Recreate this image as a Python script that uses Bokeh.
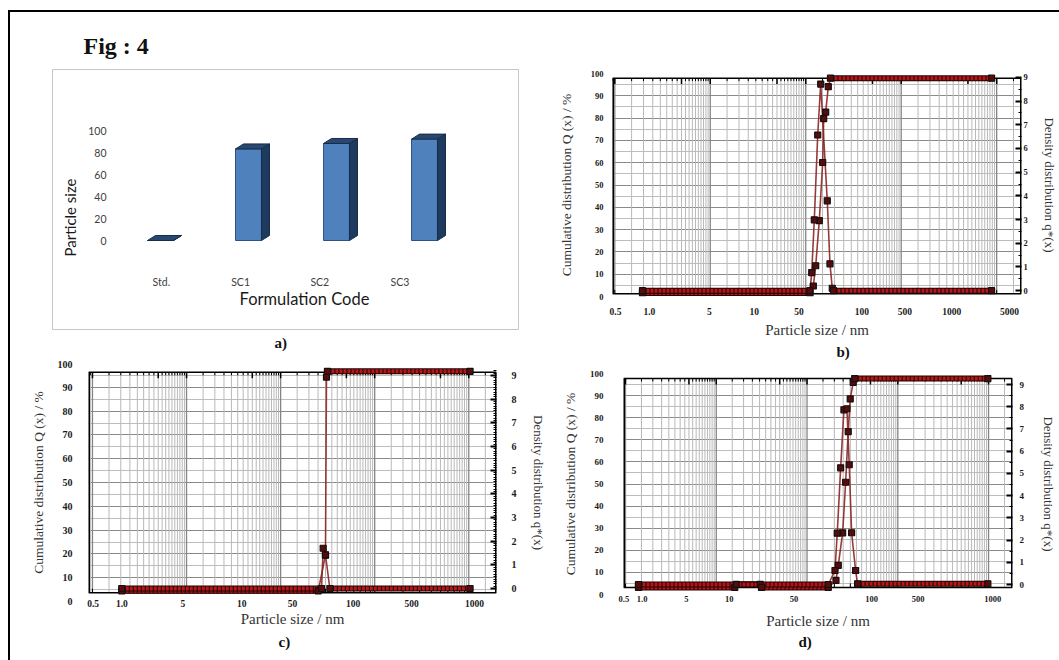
import numpy as np
from bokeh.plotting import figure
from bokeh.models import (Range1d, LinearAxis, FixedTicker, Label, Grid, Div, Spacer, Title)
from bokeh.layouts import column, row
from bokeh.embed import file_html
from bokeh.resources import INLINE

SERIF = "Liberation Serif"
SANS = "Lato"

# ---------------- data ----------------
# a) bar chart
codes = ["Std.", "SC1", "SC2", "SC3"]
particle_size = [0, 84, 89, 93]
size_ticks = [0, 20, 40, 60, 80, 100]

# b), c), d) distribution charts (x in nm on the log grid of each chart)
size_tick_text = ["0.5", "1.0", "5", "10", "50", "100", "500", "1000", "5000"]
cum_ticks = [0, 10, 20, 30, 40, 50, 60, 70, 80, 90, 100]
den_ticks = [0, 1, 2, 3, 4, 5, 6, 7, 8, 9]

b_size_tick_pos = [1.017, 2.305, 9.763, 28.83, 85.11, 387.6, 1090, 3379, 13640]
b_cum_x = [1.95, 110.9, 120.1, 127.2, 138.7, 150.5, 154.2, 161.8, 172.3, 181.6, 8846]
b_cum_y = [1.6, 1.6, 4.7, 13.8, 34.0, 60.1, 79.8, 82.7, 94.1, 97.9, 97.9]
b_den_x = [1.95, 110.9, 115.5, 123.0, 133.5, 143.5, 168.1, 179.4, 189.7, 195.2, 8846]
b_den_y = [0, 0, 0.76, 2.99, 6.57, 8.72, 3.79, 1.13, 0.10, 0, 0]

c_size_tick_pos = [1.017, 2.054, 9.141, 38.55, 133.7, 591.6, 2472, 11482]
c_cum_x = [2.05, 251, 299.8, 307.2, 314.7, 10320]
c_cum_y = [4.5, 4.5, 19.5, 94.3, 96.7, 96.7]
c_den_x = [2.05, 272.1, 283.5, 299.8, 333.7, 10320]
c_den_y = [0, 0, 1.70, 1.42, 0, 0]

d_size_tick_pos = [0.96, 1.526, 4.677, 13.90, 71.94, 514.0, 1671, 11143]
d_cum_x = [1.39, 16.0, 16.6, 30.4, 31.5, 171.4, 208.4, 220.8, 246.9, 266.3, 284.3, 299.1, 322.8, 335.0, 9824]
d_cum_y = [3.2, 3.2, 4.6, 4.6, 3.2, 3.2, 6.4, 13.2, 27.9, 50.8, 73.7, 88.5, 96.0, 97.7, 97.7]
d_den_x = [1.39, 171.4, 203.2, 215.3, 234.6, 255.0, 275.2, 291.6, 309.9, 342.9, 360.7, 9824]
d_den_y = [0, 0, 0.63, 2.31, 5.25, 7.86, 7.91, 5.39, 2.33, 0.63, 0.03, 0.03]

LINE = "#8b2525"
CHAIN_DARK = "#260000"
CHAIN_RED = "#b3191c"

TITLE_HAS_STANDOFF = "standoff" in Title.properties()


def no_align(p):
    if "frame_align" in p.properties():
        p.frame_align = False
    return p


def make_title(text, offset, standoff, size, font, style, align="left"):
    kw = dict(text=text, align=align, offset=offset, text_font=font,
              text_font_style=style, text_font_size=size, text_color="#111111")
    if TITLE_HAS_STANDOFF:
        kw["standoff"] = standoff
    return Title(**kw)


def log_grid(lo, hi):
    decades, halves, ints = [], [], []
    for n in range(-1, 6):
        for k in np.arange(1.0, 10.0, 0.5):
            v = float(k * 10.0 ** n)
            if lo < v < hi:
                if k == 1.0:
                    decades.append(v)
                else:
                    halves.append(v)
                    if k == int(k):
                        ints.append(v)
    return decades, halves, ints


def chains(xv, yv, min_dec=0.15):
    xs, ys = [], []
    for i in range(len(xv) - 1):
        if yv[i] == yv[i + 1] and np.log10(xv[i + 1] / xv[i]) >= min_dec:
            xs.append([xv[i], xv[i + 1]])
            ys.append([yv[i], yv[i + 1]])
    return xs, ys


def dist_panel(cfg, tick_pos, cum_x, cum_y, den_x, den_y):
    x0, x1 = cfg["x_rng"]
    bot, top = cfg["box"]
    ppu = cfg["ppu"]
    p = figure(width=cfg["w"], height=cfg["h"], x_axis_type="log",
               x_range=Range1d(x0, x1), y_range=Range1d(0, 100),
               output_backend="svg", toolbar_location=None,
               min_border_left=cfg["bl"], min_border_right=cfg["br"],
               min_border_top=cfg["bt"], min_border_bottom=cfg["bb"])
    no_align(p)
    p.extra_y_ranges = {"den": Range1d(*cfg["den_rng"])}
    p.outline_line_color = None
    p.xgrid.visible = False
    p.ygrid.visible = False

    decades, halves, ints = log_grid(x0, x1)
    # vertical log grid inside the chart box
    p.segment(x0=halves, y0=bot, x1=halves, y1=top, line_color="#b9b9b9", line_width=1)
    p.segment(x0=decades, y0=bot, x1=decades, y1=top, line_color="#858585", line_width=1.3)
    # horizontal grid
    p.add_layout(Grid(dimension=1, ticker=FixedTicker(ticks=[t + 5 for t in cum_ticks[:-1]]),
                      grid_line_color="#bcbcbc", grid_line_width=1))
    p.add_layout(Grid(dimension=1, ticker=FixedTicker(ticks=cum_ticks[1:-1]),
                      grid_line_color="#8a8a8a", grid_line_width=1.2))
    # ruler ticks along top and bottom of the box
    top_major = decades + [v for v in ints if abs(v / 10 ** np.floor(np.log10(v)) - 5) < 1e-9]
    top_minor = [v for v in halves if v not in top_major]
    p.segment(x0=top_major, y0=top, x1=top_major, y1=top - 6 / ppu, line_color="black", line_width=1.5)
    p.segment(x0=top_minor, y0=top, x1=top_minor, y1=top - 3 / ppu, line_color="black", line_width=1)
    bot_t = decades + ints
    p.segment(x0=bot_t, y0=bot, x1=bot_t, y1=bot + 4 / ppu, line_color="black", line_width=1)
    # chart box
    p.segment(x0=[x0, x0], y0=[bot, top], x1=[x1, x1], y1=[bot, top], line_color="black", line_width=1.5)
    p.segment(x0=[x0, x1], y0=[bot, bot], x1=[x0, x1], y1=[top, top], line_color="black", line_width=3)

    # bottom axis
    xa = p.xaxis[0]
    xa.ticker = FixedTicker(ticks=tick_pos)
    xa.major_label_overrides = dict(zip(tick_pos, size_tick_text[:len(tick_pos)]))
    xa.major_tick_line_color = None
    xa.minor_tick_line_color = None
    xa.axis_line_color = None
    xa.major_label_text_font = SERIF
    xa.major_label_text_font_style = "bold"
    xa.major_label_text_font_size = cfg["xtick_fs"]
    xa.major_label_text_color = "#1a1a1a"
    xa.major_label_standoff = cfg["bot_so"]
    xa.axis_label = "Particle size / nm"
    xa.axis_label_text_font = SERIF
    xa.axis_label_text_font_style = "normal"
    xa.axis_label_text_font_size = "15px"
    xa.axis_label_text_color = "#333333"
    xa.axis_label_standoff = cfg["bot_lso"]

    # left axis
    ya = p.yaxis[0]
    ya.ticker = FixedTicker(ticks=cum_ticks)
    ya.major_tick_line_color = None
    ya.major_tick_out = 0
    ya.major_tick_in = 0
    ya.minor_tick_line_color = None
    ya.minor_tick_out = 0
    ya.axis_line_color = None
    ya.major_label_text_font = SERIF
    ya.major_label_text_font_style = "bold"
    ya.major_label_text_font_size = cfg["ytick_fs"]
    ya.major_label_text_color = "#1a1a1a"
    ya.major_label_standoff = cfg["left_so"]
    ya.axis_label = "Cumulative distribution Q (x) / %"
    ya.axis_label_text_font = SERIF
    ya.axis_label_text_font_style = "normal"
    ya.axis_label_text_font_size = "13.5px"
    ya.axis_label_text_color = "#333333"
    ya.axis_label_standoff = cfg["left_lso"]

    # right axis
    ra = LinearAxis(y_range_name="den",
                    ticker=FixedTicker(ticks=den_ticks, minor_ticks=cfg["den_minor"]))
    ra.axis_line_color = None
    ra.major_tick_in = 6
    ra.major_tick_out = 0
    ra.major_tick_line_width = 2
    ra.minor_tick_in = 3
    ra.minor_tick_out = 0
    ra.major_label_text_font = SERIF
    ra.major_label_text_font_style = "bold"
    ra.major_label_text_font_size = cfg["ytick_fs"]
    ra.major_label_text_color = "#1a1a1a"
    ra.major_label_standoff = cfg["right_so"]
    ra.axis_label = "Density distribution q*(x)"
    ra.axis_label_text_font = SERIF
    ra.axis_label_text_font_style = "normal"
    ra.axis_label_text_font_size = "13px"
    ra.axis_label_text_color = "#333333"
    ra.axis_label_standoff = cfg["right_lso"]
    p.add_layout(ra, "right")

    # data
    p.line(cum_x, cum_y, line_color=LINE, line_width=1.6, line_alpha=0.9)
    p.line(den_x, den_y, y_range_name="den", line_color=LINE, line_width=1.6, line_alpha=0.9)
    for xv, yv, rn in [(cum_x, cum_y, "default"), (den_x, den_y, "den")]:
        cxs, cys = chains(xv, yv)
        p.multi_line(cxs, cys, y_range_name=rn, line_color=CHAIN_DARK, line_width=6)
        p.multi_line(cxs, cys, y_range_name=rn, line_color=CHAIN_RED, line_width=4, line_dash="3 1")
    p.scatter(cum_x, cum_y, marker="square", size=6, fill_color="#5a0a0a",
              line_color="#111111", line_width=1.2)
    p.scatter(den_x, den_y, y_range_name="den", marker="square", size=6, fill_color="#5a0a0a",
              line_color="#111111", line_width=1.2)

    p.add_layout(make_title(cfg["tag"], cfg["tag_off"], cfg["tag_so"], "15px", SERIF, "bold"), "below")
    return p


# ---------------- panel a ----------------
BAR_W, DEPTH_X, DEPTH_Y = 0.295, 0.091, 4.6
cat_label_pos = [0.01, 0.91, 1.81, 2.72]
xs_a = np.arange(len(codes), dtype=float)
vals = np.array(particle_size, dtype=float)

pa = figure(width=520, height=348, x_range=Range1d(-1.227, 4.068), y_range=Range1d(-81.65, 156.88),
            output_backend="svg", toolbar_location=None,
            min_border_left=42, min_border_right=12, min_border_top=57, min_border_bottom=31)
no_align(pa)
pa.grid.visible = False
pa.outline_line_color = "#c6c6c6"
pa.outline_line_width = 1

pa.quad(left=xs_a - BAR_W / 2, right=xs_a + BAR_W / 2, bottom=0, top=vals,
        fill_color="#4f81bd", line_color="#2f5282", line_width=1)
side_xs = [[x + BAR_W / 2, x + BAR_W / 2 + DEPTH_X, x + BAR_W / 2 + DEPTH_X, x + BAR_W / 2] for x in xs_a]
side_ys = [[0, DEPTH_Y, v + DEPTH_Y, v] for v in vals]
pa.patches(side_xs, side_ys, fill_color="#1f3a5f", line_color="#172c48", line_width=1)
top_xs = [[x - BAR_W / 2, x + BAR_W / 2, x + BAR_W / 2 + DEPTH_X, x - BAR_W / 2 + DEPTH_X] for x in xs_a]
top_ys = [[v, v, v + DEPTH_Y, v + DEPTH_Y] for v in vals]
pa.patches(top_xs, top_ys, fill_color="#284872", line_color="#172c48", line_width=1)

xa_a = pa.xaxis[0]
xa_a.ticker = FixedTicker(ticks=cat_label_pos)
xa_a.major_label_overrides = dict(zip(cat_label_pos, codes))
xa_a.axis_line_color = None
xa_a.major_tick_line_color = None
xa_a.minor_tick_line_color = None
xa_a.major_label_standoff = -60
xa_a.major_label_text_font = SANS
xa_a.major_label_text_font_size = "10.5px"
xa_a.major_label_text_color = "#404040"

ya_a = pa.yaxis[0]
ya_a.ticker = FixedTicker(ticks=size_ticks)
ya_a.axis_line_color = None
ya_a.major_tick_line_color = None
ya_a.minor_tick_line_color = None
ya_a.major_label_standoff = -60
ya_a.major_label_text_font = SANS
ya_a.major_label_text_font_size = "10.5px"
ya_a.major_label_text_color = "#404040"

pa.add_layout(Label(x=-1.023, y=21.1, text="Particle size", angle=np.pi / 2,
                    text_align="center", text_baseline="middle", text_font=SANS,
                    text_font_size="15px", text_color="#1a1a1a"))
pa.add_layout(Label(x=1.636, y=-54.1, text="Formulation Code",
                    text_align="center", text_baseline="middle", text_font=SANS,
                    text_font_size="16.5px", text_color="#1a1a1a"))
pa.add_layout(make_title("Fig : 4", 31, 22, "24px", SERIF, "bold"), "above")
pa.add_layout(make_title("a)", 222, 6, "15px", SERIF, "bold"), "below")

# ---------------- panels b, c, d ----------------
cfg_b = dict(w=529, h=348, bl=82, br=37, bt=61, bb=59, ppu=2.275,
             x_rng=(0.9463, 18197), den_rng=(-0.248, 9.166), box=(1.2, 97.9),
             den_minor=[i + 0.5 for i in range(9)],
             xtick_fs="9.5px", ytick_fs="8.5px",
             left_so=9, left_lso=14, right_so=2, right_lso=11, bot_so=5, bot_lso=4,
             tag="b)", tag_off=224, tag_so=2)
cfg_c = dict(w=538, h=300, bl=78, br=48, bt=3, bb=59, ppu=2.375,
             x_rng=(0.9077, 19710), den_rng=(-0.549, 9.506), box=(3.7, 96.3),
             den_minor=[round(i * 0.1, 1) for i in range(0, 93) if i % 10],
             xtick_fs="9.5px", ytick_fs="10px",
             left_so=16, left_lso=9, right_so=15, right_lso=11, bot_so=-8, bot_lso=1,
             tag="c)", tag_off=190, tag_so=4)
cfg_d = dict(w=511, h=300, bl=75, br=46, bt=13, bb=66, ppu=2.2125,
             x_rng=(0.9506, 18353), den_rng=(-0.45, 9.496), box=(3.2, 97.7),
             den_minor=[i + 0.5 for i in range(9)],
             xtick_fs="8.5px", ytick_fs="9px",
             left_so=20, left_lso=9, right_so=7, right_lso=14, bot_so=-5, bot_lso=8,
             tag="d)", tag_off=175, tag_so=1)

pb = dist_panel(cfg_b, b_size_tick_pos, b_cum_x, b_cum_y, b_den_x, b_den_y)
pc = dist_panel(cfg_c, c_size_tick_pos, c_cum_x, c_cum_y, c_den_x, c_den_y)
pd = dist_panel(cfg_d, d_size_tick_pos, d_cum_x, d_cum_y, d_den_x, d_den_y)

charts = column(row(pa, pb), row(pc, pd))
root = column(
    Spacer(width=1059, height=10),
    row(Spacer(width=8, height=2),
        Div(text="", width=1051, height=2, margin=0, styles={"background-color": "black"})),
    row(Spacer(width=8, height=648),
        Div(text="", width=2, height=648, margin=0, styles={"background-color": "black"}),
        charts),
)

open("out.html", "w").write(file_html(root, INLINE))
